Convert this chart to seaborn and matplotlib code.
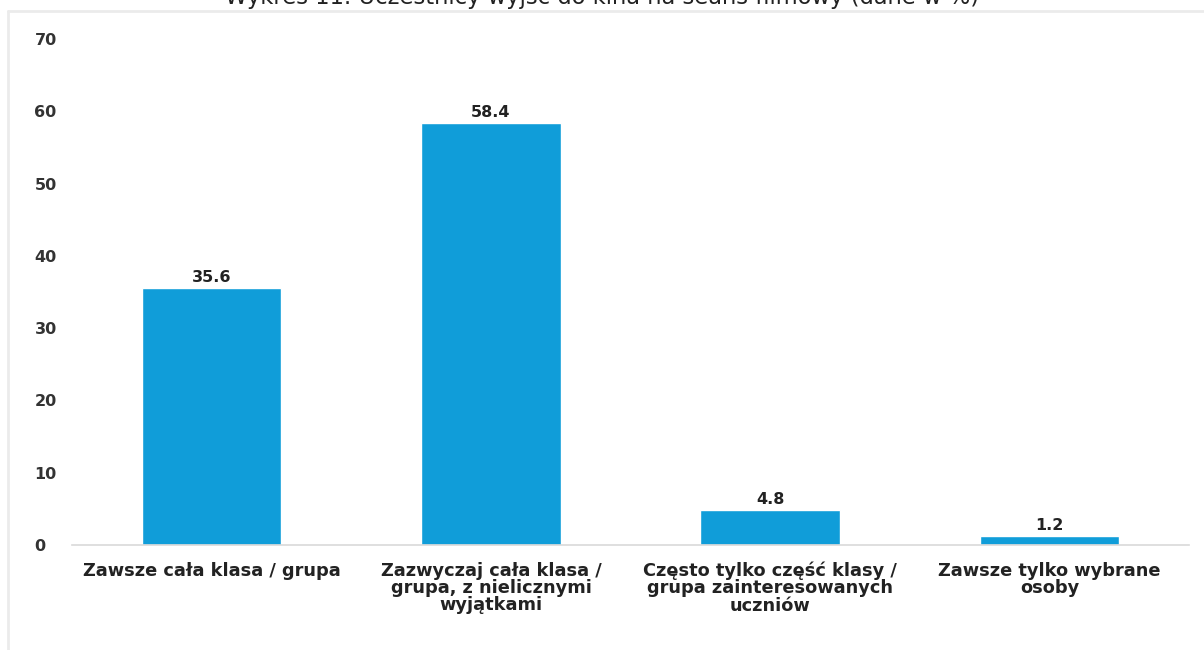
import matplotlib
matplotlib.use("Agg")
import matplotlib.pyplot as plt
import seaborn as sns
import pandas as pd
from matplotlib.lines import Line2D

# ------------------------------------------------------------
# Data
# ------------------------------------------------------------
title = "Wykres 11. Uczestnicy wyjść do kina na seans filmowy (dane w %)"
categories = [
    "Zawsze cała klasa / grupa",
    "Zazwyczaj cała klasa /\ngrupa, z nielicznymi\nwyjątkami",
    "Często tylko część klasy /\ngrupa zainteresowanych\nuczniów",
    "Zawsze tylko wybrane\nosoby",
]
values = [35.6, 58.4, 4.8, 1.2]
y_ticks = [0, 10, 20, 30, 40, 50, 60, 70]

df = pd.DataFrame({"kategoria": categories, "procent": values})

# ------------------------------------------------------------
# Plot
# ------------------------------------------------------------
sns.set_style("white")
plt.rcParams["font.family"] = ["DejaVu Sans"]

fig = plt.figure(figsize=(12.04, 6.5), dpi=100)
ax = fig.add_axes([0.0598, 0.1615, 0.928, 0.7785])

sns.barplot(data=df, x="kategoria", y="procent", color="#109dd9",
            width=0.5, saturation=1, ax=ax)

for i, v in enumerate(values):
    ax.text(i, v + 0.4, f"{v:.1f}", ha="center", va="bottom",
            fontsize=11.5, fontweight="bold", color="#222222")

ax.set_xlim(-0.5, 3.5)
ax.set_ylim(0, 70)
ax.set_yticks(y_ticks)
ax.set_yticklabels([str(t) for t in y_ticks], fontsize=11.5,
                   fontweight="bold", color="#333333")
for lab in ax.get_yticklabels():
    lab.set_horizontalalignment("left")
for lab in ax.get_xticklabels():
    lab.set_fontweight("bold")
    lab.set_linespacing(0.95)
ax.tick_params(axis="x", labelsize=12.8, colors="#222222", length=0, pad=12)
ax.tick_params(axis="y", length=0, pad=27)
ax.set_xlabel("")
ax.set_ylabel("")

for s in ["top", "right", "left"]:
    ax.spines[s].set_visible(False)
ax.spines["bottom"].set_color("#d9d9d9")
ax.spines["bottom"].set_linewidth(1.2)

# frame lines of the original screenshot
fig.add_artist(Line2D([8 / 1204, 1], [1 - 11 / 650, 1 - 11 / 650],
                      color="#ebebeb", lw=2, transform=fig.transFigure))
fig.add_artist(Line2D([8 / 1204, 8 / 1204], [0, 1 - 11 / 650],
                      color="#ebebeb", lw=2, transform=fig.transFigure))

fig.text(0.5, 1.004, title, ha="center", va="center", fontsize=16.3,
         color="#222222")

fig.savefig("out.png", dpi=100)
